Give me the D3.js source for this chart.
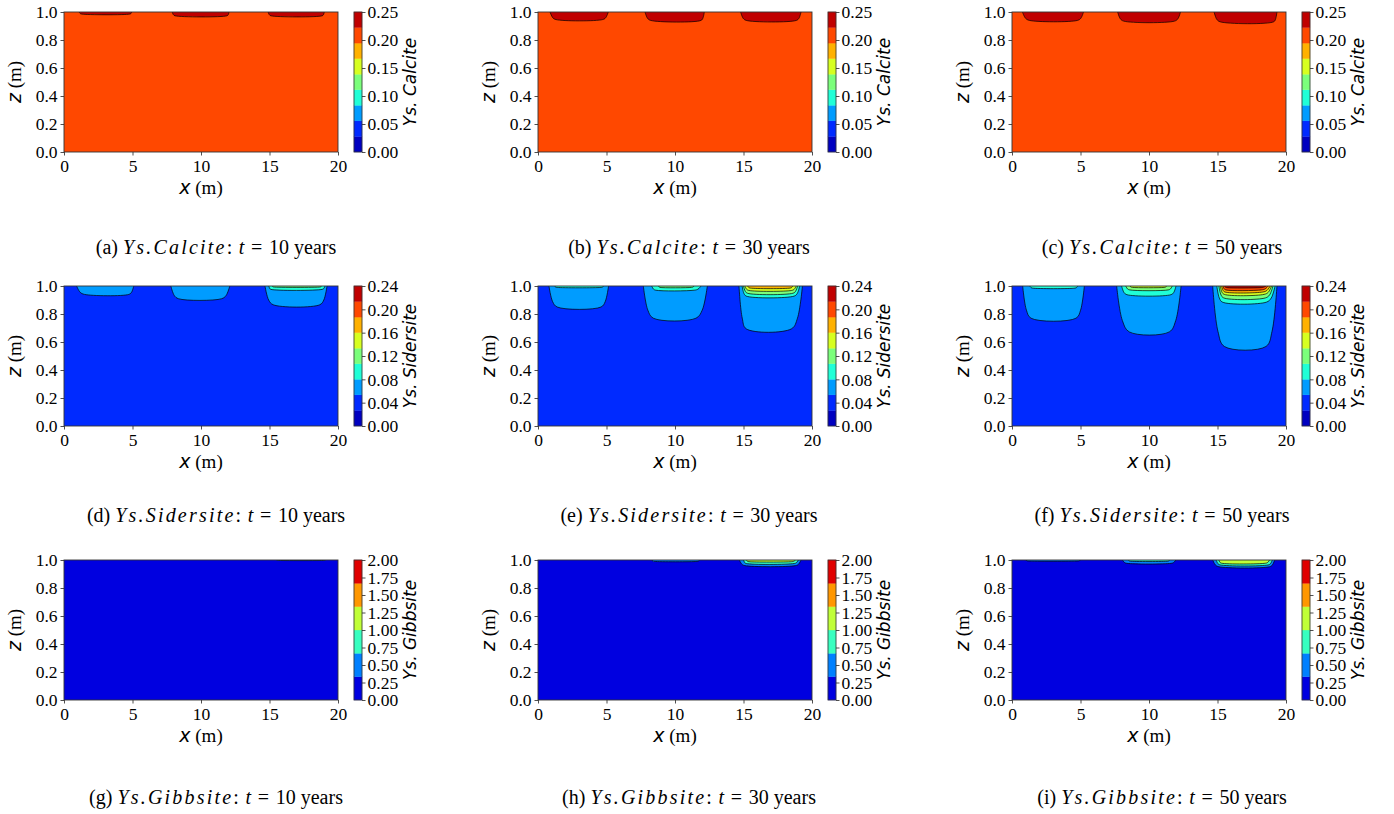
<!DOCTYPE html>
<html><head><meta charset="utf-8">
<script src="https://cdn.jsdelivr.net/npm/d3@7"></script>
<style>
body{margin:0;background:#fff;}
</style></head>
<body><svg id="c" width="1394" height="814"></svg>
<script>
// ---------- data ----------
const xTicks = [0, 5, 10, 15, 20];
const zTicks = [0, 0.2, 0.4, 0.6, 0.8, 1.0];
const species = ["Calcite", "Sidersite", "Gibbsite"];
const times = [10, 30, 50];
const letters = ["a","b","c","d","e","f","g","h","i"];
const cbMax = [0.25, 0.24, 2.0];
const cbBands = [9, 9, 6];
const cbTicks = [[0,0.05,0.10,0.15,0.20,0.25],[0,0.04,0.08,0.12,0.16,0.20,0.24],[0,0.25,0.5,0.75,1.0,1.25,1.5,1.75,2.0]];
const bgBand = [7, 1, 0];
// contour rows: [band, xTopLeft, xBottomLeft, xBottomRight, xTopRight, zBottom]
const calcite10 = [[8,1.1,1.3,4.8,4.95,0.985],[8,7.9,8.1,11.9,12.05,0.973],[8,14.9,15.1,18.85,19.0,0.973]];
const calcite30 = [[8,0.88,1.31,4.72,5.13,0.946],[8,7.81,8.22,11.9,12.14,0.94],[8,14.79,15.2,18.86,19.2,0.94]];
const calcite50 = [[8,0.76,1.27,4.78,5.22,0.94],[8,7.71,8.15,11.87,12.3,0.935],[8,14.75,15.19,19.1,19.34,0.93]];
const sidersite10 = [[2,0.92,1.5,4.73,5.09,0.94],[2,7.8,8.36,11.5,12.1,0.909],[2,14.67,15.27,18.67,19.2,0.866],
  [3,14.95,15.1,18.85,19.05,0.976],[4,15.2,15.3,18.7,18.8,0.993]];
const sidersite30 = [[2,0.8,1.4,4.6,5.15,0.85],[3,1.2,1.4,4.6,4.8,0.99],
  [2,7.69,8.42,11.53,12.36,0.77],[3,8.3,8.6,11.4,11.9,0.97],[4,8.8,8.9,11.2,11.4,0.99],
  [2,14.67,15.2,18.5,19.3,0.694],[3,14.9,15.2,18.7,19.1,0.928],[4,15.0,15.3,18.6,18.95,0.948],
  [5,15.1,15.4,18.5,18.85,0.968],[6,15.3,15.5,18.4,18.6,0.985]];
const sidersite50 = [[2,0.78,1.39,4.67,5.28,0.77],[3,1.3,1.5,4.6,4.8,0.985],
  [2,7.64,8.56,11.48,12.34,0.672],[3,8.0,8.39,11.6,11.97,0.938],[4,8.3,8.6,11.4,11.7,0.972],[5,8.6,8.8,11.1,11.3,0.99],
  [2,14.65,15.5,18.54,19.34,0.568],[3,14.95,15.36,18.58,19.2,0.885],[4,15.1,15.45,18.5,19.05,0.915],
  [5,15.2,15.5,18.4,18.95,0.94],[6,15.3,15.55,18.3,18.85,0.957],[7,15.4,15.6,18.2,18.7,0.972],[8,15.5,15.7,18.1,18.55,0.988]];
const gibbsite10 = [[1,15.5,15.6,19.0,19.1,0.997]];
const gibbsite30 = [[1,8.3,8.5,11.6,11.8,0.99],[1,14.7,15.1,18.8,19.2,0.96],[2,15.0,15.2,18.7,19.0,0.975],[3,15.2,15.4,18.5,18.8,0.988]];
const gibbsite50 = [[1,1.0,1.2,4.8,5.0,0.993],[1,8.06,8.4,11.6,11.96,0.976],[2,8.5,8.6,11.4,11.5,0.992],
  [1,14.65,15.1,18.8,19.17,0.952],[2,14.9,15.2,18.7,19.0,0.965],[3,15.1,15.3,18.5,18.8,0.977]];
const panelData = [calcite10, calcite30, calcite50, sidersite10, sidersite30, sidersite50, gibbsite10, gibbsite30, gibbsite50];

// ---------- jet colormap ----------
const jetR = [[0,0],[0.35,0],[0.66,1],[0.89,1],[1,0.5]];
const jetG = [[0,0],[0.125,0],[0.375,1],[0.64,1],[0.91,0],[1,0]];
const jetB = [[0,0.5],[0.11,1],[0.34,1],[0.65,0],[1,0]];
function seg(a,t){for(let i=0;i<a.length-1;i++){if(t<=a[i+1][0]){const f=(t-a[i][0])/(a[i+1][0]-a[i][0]);return a[i][1]+f*(a[i+1][1]-a[i][1]);}}return a[a.length-1][1];}
function jet(t){return d3.rgb(255*seg(jetR,t),255*seg(jetG,t),255*seg(jetB,t)).toString();}
function bandColor(s,b){return jet((b+0.5)/cbBands[s]);}

// ---------- layout ----------
const SERIF = "'Liberation Serif', 'Times New Roman', serif";
const SANS = "'DejaVu Sans', sans-serif";
const colX = [64, 538, 1012];
const rowY = [12, 286, 560];
const capY = [254, 521.5, 804];
const capX = [216, 689, 1162];
const plotW = 274, plotH = 140;
const svg = d3.select("#c");
const line = d3.line().curve(d3.curveCatmullRom.alpha(0.5));

panelData.forEach((data, idx) => {
  const r = Math.floor(idx/3), c = idx%3;
  const x0 = colX[c], y0 = rowY[r];
  const g = svg.append("g").attr("transform",`translate(${x0},${y0})`);
  const x = d3.scaleLinear().domain([0,20]).range([0,plotW]);
  const z = d3.scaleLinear().domain([0,1]).range([plotH,0]);
  const clipId = "clip"+idx;
  g.append("clipPath").attr("id",clipId).append("rect").attr("width",plotW).attr("height",plotH);
  const pg = g.append("g").attr("clip-path",`url(#${clipId})`);
  pg.append("rect").attr("width",plotW).attr("height",plotH).attr("fill",bandColor(r,bgBand[r]));
  data.forEach(d => {
    const [b,xtl,xbl,xbr,xtr,zb] = d;
    const dep = 1-zb;
    const pts = [[xtl,1],[xtl+0.45*(xbl-xtl),1-0.75*dep],[xbl,zb],[xbr,zb],[xtr-0.45*(xtr-xbr),1-0.75*dep],[xtr,1]]
      .map(p=>[x(p[0]),z(p[1])]);
    pg.append("path").attr("d",line(pts)+"Z").attr("fill",bandColor(r,b)).attr("stroke","none");
    pg.append("path").attr("d",line(pts)).attr("fill","none").attr("stroke","#000").attr("stroke-width",0.7);
  });
  // axes
  const ax = g.append("g").attr("transform",`translate(0,${plotH})`)
    .call(d3.axisBottom(x).tickValues(xTicks).tickSize(3.5).tickPadding(4).tickFormat(d3.format("d")));
  const ay = g.append("g").call(d3.axisLeft(z).tickValues(zTicks).tickSize(3.5).tickPadding(3).tickFormat(d3.format(".1f")));
  [ax,ay].forEach(a=>{a.attr("font-family",SERIF).attr("font-size",17.5);
    a.select(".domain").remove();a.selectAll("line").attr("stroke","#222").attr("stroke-width",0.8);
    a.selectAll("text").attr("fill","#000").style("font-family",SERIF).style("font-size","17.5px");});
  ax.selectAll("text").attr("dy","0.74em");
  ay.selectAll("text").attr("dy","0.34em");
  g.append("rect").attr("width",plotW).attr("height",plotH).attr("fill","none").attr("stroke","#333").attr("stroke-width",0.9);
  // axis labels
  const xl = g.append("text").attr("x",plotW/2).attr("y",plotH+42).attr("text-anchor","middle").style("font-size","19px").style("font-family",SERIF);
  xl.append("tspan").text("x").style("font-family",SANS).style("font-style","italic");
  xl.append("tspan").text(" (m)");
  const zl = g.append("text").attr("transform",`translate(-43,${plotH/2}) rotate(-90)`)
    .attr("text-anchor","middle").style("font-size","19px").style("font-family",SERIF);
  zl.append("tspan").text("z").style("font-family",SANS).style("font-style","italic");
  zl.append("tspan").text(" (m)");
  // colorbar
  const cbx = plotW+16, cbw = 8;
  const yc = d3.scaleLinear().domain([0,cbMax[r]]).range([plotH,0]);
  const cg = g.append("g").attr("transform",`translate(${cbx},0)`);
  const nb = cbBands[r];
  d3.range(nb).forEach(i=>{
    const lo = cbMax[r]*i/nb, hi = cbMax[r]*(i+1)/nb;
    cg.append("rect").attr("x",0).attr("width",cbw).attr("y",yc(hi)).attr("height",yc(lo)-yc(hi)).attr("fill",bandColor(r,i)).attr("stroke",bandColor(r,i)).attr("stroke-width",0.3);
  });
  const ca = cg.append("g").attr("transform",`translate(${cbw},0)`)
    .call(d3.axisRight(yc).tickValues(cbTicks[r]).tickSize(3.5).tickPadding(2).tickFormat(d3.format(".2f")));
  ca.attr("font-family",SERIF).attr("font-size",17.5);
  ca.select(".domain").remove();
  ca.selectAll("line").attr("stroke","#222").attr("stroke-width",0.8);
  ca.selectAll("text").attr("fill","#000").attr("dy","0.34em").style("font-family",SERIF).style("font-size","17.5px");
  cg.append("rect").attr("width",cbw).attr("height",plotH).attr("fill","none").attr("stroke","#333").attr("stroke-width",0.8);
  cg.append("text").attr("transform",`translate(${62},${plotH/2}) rotate(-90)`).attr("text-anchor","middle")
    .style("font-size","17px").style("font-family",SANS).style("font-style","italic").text("Ys. "+species[r]);
  // caption
  const cap = svg.append("text").attr("x",capX[c]).attr("y",capY[r]).attr("text-anchor","middle").style("font-size","20px").style("font-family",SERIF);
  cap.append("tspan").text(`(${letters[idx]}) `);
  cap.append("tspan").text(`Ys.${species[r]}`).style("font-style","italic").style("letter-spacing","2.2px");
  cap.append("tspan").text(":\u2004");
  cap.append("tspan").text("t").style("font-style","italic");
  cap.append("tspan").text(`\u2004=\u2004${times[c]} years`);
});
</script></body></html>
